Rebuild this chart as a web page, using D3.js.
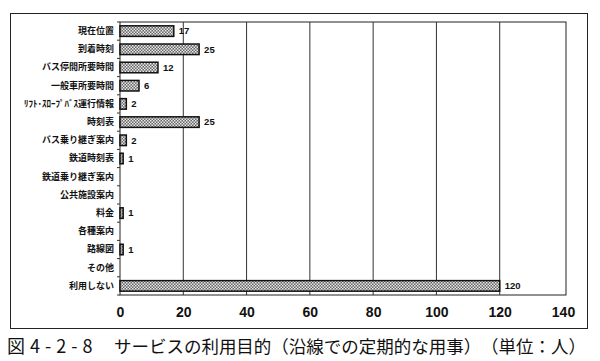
<!DOCTYPE html>
<html><head><meta charset="utf-8">
<script src="https://cdn.jsdelivr.net/npm/d3@7"></script>
<style>body{margin:0;background:#fff}svg{display:block}</style>
</head><body>
<script>
const categories = ["現在位置","到着時刻","バス停間所要時間","一般車所要時間","ﾘﾌﾄ･ｽﾛｰﾌﾟﾊﾞｽ運行情報","時刻表","バス乗り継ぎ案内","鉄道時刻表","鉄道乗り継ぎ案内","公共施設案内","料金","各種案内","路線図","その他","利用しない"];
const values = [17,25,12,6,2,25,2,1,0,0,1,0,1,0,120];
const xTicks = [0,20,40,60,80,100,120,140];
const figNo = "図4-2-8";
const title = "サービスの利用目的（沿線での定期的な用事）　（単位：人）";

(function(){
const W=600,H=361;
const svg=d3.select("body").append("svg").attr("width",W).attr("height",H);
const defs=svg.append("defs");
const pat=defs.append("pattern").attr("id","hatch").attr("width",3).attr("height",3).attr("patternUnits","userSpaceOnUse");
pat.append("rect").attr("width",3).attr("height",3).attr("fill","#666");
pat.append("rect").attr("width",1.5).attr("height",1.5).attr("fill","#e8e8e8");
pat.append("rect").attr("x",1.5).attr("y",1.5).attr("width",1.5).attr("height",1.5).attr("fill","#e8e8e8");

svg.append("rect").attr("x",10.5).attr("y",13.5).attr("width",577).attr("height",315).attr("fill","none").attr("stroke","#222").attr("stroke-width",1);

const x=d3.scaleLinear().domain([0,140]).range([120,563]);
const pTop=22,pBottom=295;
const y=d3.scaleBand().domain(categories).range([pTop,pBottom]).paddingInner(0.42).paddingOuter(0.21);

svg.append("rect").attr("x",120).attr("y",pTop).attr("width",446).attr("height",pBottom-pTop).attr("fill","none").attr("stroke","#222").attr("stroke-width",1);
svg.append("g").selectAll("line").data(xTicks.filter(d=>d>0&&d<140)).join("line")
 .attr("x1",d=>x(d)).attr("x2",d=>x(d)).attr("y1",pTop).attr("y2",pBottom).attr("stroke","#333").attr("stroke-width",1);

const xa=svg.append("g").attr("transform",`translate(0,${pBottom})`)
 .call(d3.axisBottom(x).tickValues(xTicks).tickSize(0).tickPadding(12));
xa.select(".domain").remove();
xa.selectAll("text").attr("font-family","Liberation Sans, Arial, sans-serif").attr("font-size",14).attr("font-weight","bold").attr("fill","#111");

const step=(pBottom-pTop)/categories.length;
svg.append("g").selectAll("line").data(d3.range(categories.length+1)).join("line")
 .attr("x1",117).attr("x2",120).attr("y1",d=>pTop+d*step).attr("y2",d=>pTop+d*step).attr("stroke","#333");

const ya=svg.append("g").attr("transform","translate(120,0)").call(d3.axisLeft(y).tickSize(0).tickPadding(6));
ya.select(".domain").remove();
ya.selectAll("text").attr("font-family","Noto Sans CJK JP, sans-serif").attr("font-size",9).attr("font-weight","bold").attr("fill","#111");

const data=values.map((v,i)=>({c:categories[i],v})).filter(d=>d.v>0);
svg.append("g").selectAll("rect").data(data).join("rect")
 .attr("x",x(0)).attr("y",d=>y(d.c)).attr("width",d=>x(d.v)-x(0)).attr("height",y.bandwidth())
 .attr("fill","url(#hatch)").attr("stroke","#111").attr("stroke-width",1.5);

svg.append("g").selectAll("text").data(data).join("text")
 .attr("x",d=>x(d.v)+5).attr("y",d=>y(d.c)+y.bandwidth()/2).attr("dy","0.35em")
 .attr("font-family","Liberation Sans, Arial, sans-serif").attr("font-size",9.5).attr("font-weight","bold").attr("fill","#111")
 .text(d=>d.v);

svg.append("text").attr("x",7).attr("y",353).attr("font-family","Noto Sans CJK JP, sans-serif").attr("font-size",18).attr("letter-spacing",5).attr("fill","#111").text(figNo);
svg.append("text").attr("x",114).attr("y",353).attr("font-family","Noto Sans CJK JP, sans-serif").attr("font-size",17.5).attr("textLength",472).attr("lengthAdjust","spacing").attr("fill","#111").text(title);
})();
</script>
</body></html>
